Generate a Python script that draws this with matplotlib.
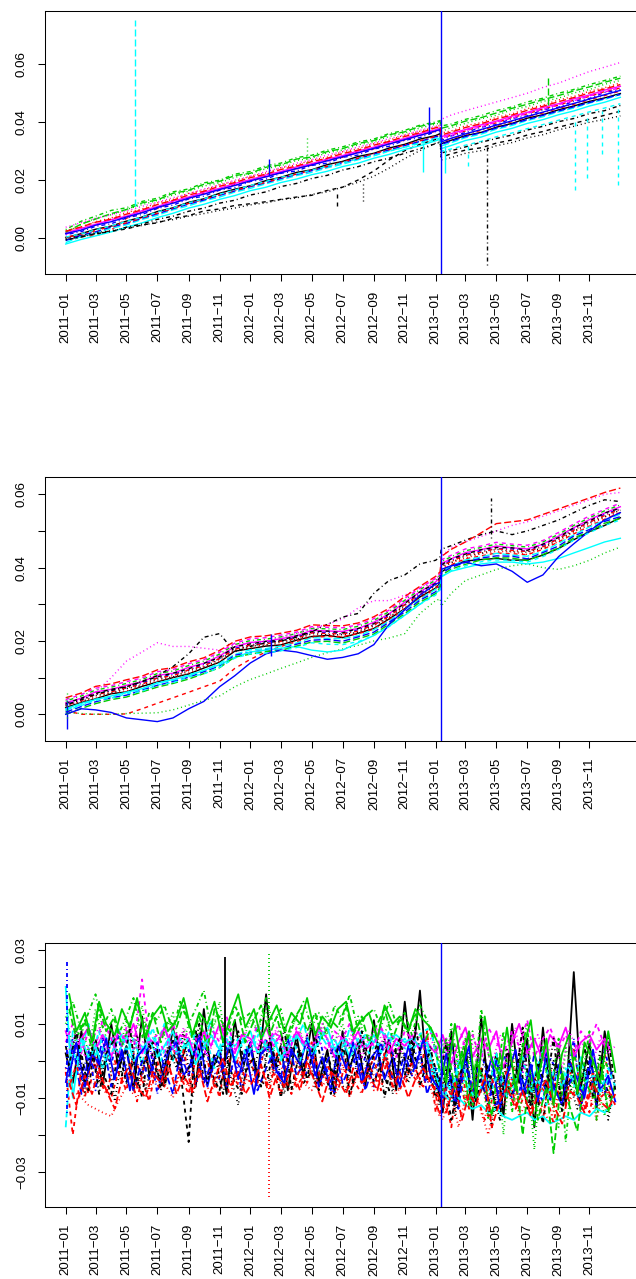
import matplotlib
matplotlib.use("Agg")
import matplotlib.pyplot as plt
import matplotlib.dates as mdates
import numpy as np
import pandas as pd

# ----------------- Data (all values in units of 1e-3) -----------------
UNIT = 1e-3

# monthly points with the break on 2013-01-11 kept sharp
monthly_dates = (list(pd.date_range("2011-01-01", "2013-01-01", freq="MS"))
                 + [pd.Timestamp("2013-01-10"), pd.Timestamp("2013-01-12")]
                 + list(pd.date_range("2013-02-01", "2014-01-01", freq="MS")))
semimonthly_dates = pd.date_range("2011-01-01", "2013-12-31", freq="SMS")
semimonthly_late = semimonthly_dates + pd.Timedelta(days=7)
break_date = pd.Timestamp("2013-01-11")
obs_start, obs_end = pd.Timestamp("2011-01-03"), pd.Timestamp("2013-12-31")

# panel 1: cumulated series
top_s00 = [0.2, 1.6, 3.1, 4.2, 5.9, 7.3, 9.2, 10.5, 12.4, 13.6, 15.5, 16.9, 18.1, 19.9, 21.0, 22.7, 23.6, 25.4, 26.5, 28.2,
           29.3, 31.1, 32.4, 34.2, 35.4, 36.1, 32.6, 33.8, 35.4, 36.5, 38.3, 39.6, 41.4, 42.6, 44.3, 45.6, 47.2, 48.4, 49.9]
top_s01 = [0.5, 0.6, 0.8, 2.8, 6.9, 9.0, 10.3, 12.4, 13.6, 15.5, 16.6, 18.5, 19.6, 21.4, 22.5, 24.1, 25.2, 27.0, 27.9, 29.7,
           30.8, 32.6, 33.9, 35.6, 36.9, 37.6, 34.3, 35.6, 37.0, 38.7, 39.8, 41.7, 42.9, 44.6, 45.9, 47.6, 48.9, 50.6, 51.8]
top_s02 = [2.0, 4.8, 6.9, 8.1, 9.9, 11.6, 13.0, 14.9, 16.2, 18.0, 19.1, 21.0, 22.2, 24.0, 25.0, 26.8, 27.6, 29.5, 30.4, 32.2,
           33.3, 35.1, 36.3, 38.0, 39.3, 39.8, 36.8, 38.2, 39.6, 41.2, 42.4, 44.3, 45.4, 47.2, 48.3, 50.1, 51.3, 53.1, 54.4]
top_s03 = [1.2, 2.3, 4.1, 5.0, 7.0, 8.2, 10.3, 11.4, 13.6, 14.5, 16.6, 17.5, 19.6, 20.4, 22.4, 23.2, 25.1, 25.9, 27.9, 28.7,
           30.8, 31.7, 33.8, 34.7, 36.8, 37.2, 33.7, 35.3, 36.4, 38.3, 39.2, 41.3, 42.2, 44.3, 45.2, 47.3, 48.2, 50.3, 51.2]
top_s04 = [-1.5, 0.6, 1.8, 3.4, 4.6, 6.5, 7.9, 9.8, 11.2, 12.9, 14.2, 15.9, 17.2, 18.8, 20.1, 21.6, 22.7, 24.3, 25.5, 27.1,
           28.4, 30.1, 31.4, 33.1, 34.4, 35.0, 31.8, 33.0, 34.7, 35.9, 37.6, 38.9, 40.6, 41.9, 43.6, 44.9, 46.6, 47.9, 49.6]
top_s05 = [1.8, 3.4, 4.8, 6.4, 7.6, 9.5, 10.9, 12.8, 14.2, 15.9, 17.2, 18.9, 20.2, 21.8, 23.0, 24.6, 25.7, 27.3, 28.5, 30.1,
           31.4, 33.1, 34.4, 36.1, 37.4, 38.1, 35.0, 36.1, 37.5, 39.1, 40.4, 42.1, 43.4, 45.1, 46.4, 48.1, 49.4, 51.1, 52.4]
top_s06 = [-0.5, 0.6, 1.5, 2.4, 3.2, 4.6, 5.3, 6.9, 7.8, 9.4, 10.1, 11.3, 11.9, 12.6, 13.4, 14.2, 14.8, 16.5, 17.6, 20.1,
           23.2, 27.0, 30.2, 32.4, 34.0, 34.5, 28.0, 29.1, 30.4, 31.2, 32.8, 33.9, 35.6, 36.8, 38.3, 39.6, 41.0, 42.4, 43.8]
top_s07 = [2.6, 3.9, 5.7, 7.0, 8.9, 10.1, 12.2, 13.4, 15.5, 16.6, 18.5, 19.6, 21.4, 22.5, 24.3, 25.3, 26.9, 28.0, 29.8, 30.9,
           32.6, 33.8, 35.6, 36.9, 38.4, 38.9, 36.3, 37.0, 38.8, 39.9, 41.7, 42.9, 44.7, 45.9, 47.7, 48.9, 50.7, 51.9, 53.6]
top_s08 = [3.0, 5.9, 7.6, 9.6, 10.5, 12.7, 13.8, 16.0, 17.0, 19.1, 20.0, 22.1, 23.0, 25.0, 25.9, 27.8, 28.6, 30.4, 31.5, 33.2,
           34.2, 36.1, 37.2, 39.0, 40.1, 40.6, 38.7, 39.4, 41.0, 42.3, 44.0, 45.3, 47.0, 48.3, 50.0, 51.3, 53.0, 54.4, 55.9]
top_s09 = [-0.8, 1.1, 2.2, 3.9, 5.1, 6.9, 8.4, 10.2, 11.8, 13.2, 14.8, 16.3, 17.8, 19.2, 20.6, 22.0, 23.3, 24.7, 26.1, 27.5,
           29.0, 30.5, 32.0, 33.4, 35.0, 35.4, 32.4, 33.5, 35.1, 36.4, 38.0, 39.4, 40.9, 42.4, 43.9, 45.3, 46.8, 48.2, 49.6]
top_s10 = [-2.0, -0.4, 0.8, 2.2, 3.8, 5.3, 7.1, 8.6, 10.4, 11.7, 13.4, 14.7, 16.4, 17.6, 19.2, 20.4, 21.9, 23.1, 24.7, 25.9,
           27.6, 28.9, 30.6, 31.9, 33.6, 34.1, 30.9, 32.0, 33.7, 34.9, 36.6, 37.9, 39.6, 40.9, 42.6, 43.9, 45.6, 46.9, 48.6]
top_s11 = [1.4, 2.9, 4.5, 5.8, 7.2, 8.9, 10.6, 12.1, 13.9, 15.2, 16.9, 18.2, 19.9, 21.1, 22.7, 23.9, 25.4, 26.6, 28.2, 29.4,
           31.1, 32.4, 34.1, 35.4, 37.1, 37.4, 34.6, 35.4, 37.2, 38.4, 40.1, 41.4, 43.1, 44.4, 46.1, 47.4, 49.1, 50.4, 52.0]
top_s12 = [0.0, 0.9, 1.9, 2.6, 3.5, 4.4, 5.6, 6.4, 7.6, 8.5, 9.6, 10.4, 11.5, 12.2, 13.3, 13.9, 15.1, 16.0, 17.6, 19.3,
           21.4, 24.2, 27.5, 30.2, 32.8, 33.2, 27.0, 27.8, 29.3, 30.2, 31.9, 33.0, 34.6, 35.7, 37.4, 38.6, 40.0, 41.0, 42.2]
top_s13 = [0.3, 1.4, 2.6, 4.1, 5.3, 7.0, 8.6, 10.3, 12.0, 13.4, 15.0, 16.4, 18.0, 19.3, 20.8, 22.1, 23.5, 24.8, 26.3, 27.6,
           29.2, 30.6, 32.2, 33.6, 35.2, 35.8, 33.2, 34.3, 35.9, 37.2, 38.8, 40.2, 41.8, 43.2, 44.8, 46.2, 47.8, 49.2, 50.8]
top_s14 = [2.1, 4.9, 6.6, 8.5, 9.9, 12.2, 13.2, 15.5, 16.5, 18.6, 19.6, 21.6, 22.4, 24.5, 25.3, 27.3, 28.0, 29.9, 30.9, 32.7,
           33.7, 35.7, 36.7, 38.6, 39.7, 40.3, 37.9, 38.8, 40.4, 41.6, 43.2, 44.8, 46.2, 47.8, 49.2, 50.8, 52.2, 53.8, 55.2]
top_s15 = [1.6, 2.8, 4.5, 5.7, 7.3, 8.8, 10.6, 12.1, 13.8, 15.2, 16.8, 18.2, 19.8, 21.2, 22.6, 24.0, 25.3, 26.7, 28.1, 29.5,
           31.0, 32.5, 34.0, 35.5, 37.0, 37.5, 33.2, 34.5, 36.0, 37.5, 39.0, 40.5, 42.0, 43.5, 45.0, 46.5, 48.0, 49.5, 51.0]
top_s16 = [0.4, 1.5, 2.9, 4.3, 5.8, 7.3, 9.0, 10.5, 12.2, 13.6, 15.2, 16.6, 18.2, 19.6, 21.0, 22.2, 23.5, 24.8, 26.0, 27.4,
           28.6, 30.0, 31.4, 32.7, 34.0, 34.6, 30.0, 30.8, 32.1, 33.4, 35.0, 36.3, 37.8, 39.2, 40.7, 42.1, 43.6, 44.9, 46.4]
top_s17 = [3.8, 5.4, 6.8, 8.1, 9.4, 11.0, 12.4, 14.0, 15.3, 17.0, 18.3, 20.0, 21.4, 23.0, 24.3, 25.9, 27.1, 28.7, 29.9, 31.5,
           32.8, 34.4, 35.6, 37.2, 38.6, 39.0, 41.0, 42.5, 44.0, 45.5, 47.0, 48.5, 50.0, 52.0, 53.5, 55.5, 57.5, 59.0, 60.6]
top_s18 = [-0.6, 0.4, 1.6, 2.3, 3.8, 4.9, 6.5, 7.6, 9.3, 10.4, 12.1, 13.1, 14.9, 16.0, 17.8, 18.9, 20.6, 21.7, 23.5, 24.7,
           26.4, 27.6, 29.3, 30.9, 32.6, 33.1, 29.4, 30.2, 31.5, 33.1, 34.4, 35.6, 37.3, 38.6, 40.2, 41.3, 43.0, 44.0, 45.8]
top_s19 = [2.4, 3.9, 5.5, 6.6, 8.3, 9.8, 11.6, 13.1, 14.9, 16.2, 17.9, 19.2, 20.9, 22.1, 23.7, 24.9, 26.4, 27.6, 29.2, 30.4,
           32.1, 33.4, 35.1, 36.4, 38.1, 38.4, 35.6, 36.6, 38.2, 39.5, 41.1, 42.5, 44.1, 45.5, 47.1, 48.5, 50.1, 51.5, 53.0]
top_series = [top_s00, top_s01, top_s02, top_s03, top_s04, top_s05, top_s06, top_s07, top_s08, top_s09,
              top_s10, top_s11, top_s12, top_s13, top_s14, top_s15, top_s16, top_s17, top_s18, top_s19]

# single-day spikes: series index, day, from, to
top_ev_idx = [4, 18, 16, 16, 16, 16, 15, 15, 2, 14, 10, 10, 16, 6, 12]
top_ev_day = ["2011-05-18", "2013-04-12", "2013-10-04", "2013-10-27", "2013-11-26", "2013-12-28", "2012-12-19",
              "2012-02-07", "2012-04-21", "2013-08-11", "2012-12-08", "2013-01-20", "2013-03-05", "2012-06-20",
              "2012-08-10"]
top_ev_lo = [11.0, -9.2, 16.7, 20.7, 29.0, 18.4, 36.0, 21.5, 26.0, 46.0, 22.8, 22.5, 25.0, 11.0, 13.0]
top_ev_hi = [75.3, 32.0, 41.0, 42.0, 44.0, 46.0, 45.4, 27.3, 35.3, 56.3, 33.0, 32.0, 32.0, 16.5, 19.5]

# panel 2: cumulated series (second set)
mid_s00 = [1.8, 3.2, 4.2, 5.6, 6.1, 7.6, 8.8, 10.0, 11.0, 12.6, 14.2, 17.2, 17.9, 18.6, 18.9, 20.2, 21.2, 21.5, 20.9, 22.1,
           23.4, 26.0, 28.8, 32.0, 34.4, 35.8, 38.8, 40.5, 41.8, 42.2, 42.5, 42.0, 42.1, 43.4, 45.2, 47.6, 49.8, 51.5, 53.6]
mid_s01 = [1.0, 0.0, 0.0, 0.0, 0.1, 1.5, 3.0, 4.5, 6.0, 7.5, 9.0, 12.5, 15.0, 17.0, 18.5, 19.8, 21.0, 21.2, 21.2, 22.0,
           23.2, 25.8, 28.6, 31.7, 34.2, 35.5, 39.2, 40.8, 42.4, 43.2, 44.0, 43.8, 43.5, 45.0, 47.0, 49.2, 51.3, 53.2, 55.0]
mid_s02 = [0.5, 0.2, 0.0, 0.0, 0.2, 0.3, 0.4, 1.2, 2.5, 3.8, 5.0, 7.5, 9.5, 11.0, 12.5, 14.0, 15.5, 16.8, 17.8, 18.8,
           20.0, 20.8, 22.0, 27.5, 31.0, 31.5, 29.5, 33.0, 36.5, 38.0, 39.5, 40.5, 41.0, 40.0, 39.5, 40.5, 42.0, 44.0, 45.6]
mid_s03 = [2.7, 4.0, 5.4, 6.5, 7.2, 8.6, 9.9, 10.9, 12.1, 13.6, 15.2, 18.0, 18.9, 19.7, 20.0, 21.1, 22.3, 22.4, 21.9, 23.1,
           24.4, 27.1, 29.9, 33.1, 35.4, 37.0, 40.6, 42.0, 43.6, 44.6, 45.2, 45.1, 44.4, 46.1, 47.9, 50.6, 52.4, 54.6, 56.0]
mid_s04 = [1.2, 2.6, 4.1, 4.8, 5.9, 6.9, 8.6, 9.2, 10.8, 11.9, 13.9, 16.3, 17.6, 17.9, 18.6, 19.4, 20.9, 20.7, 20.6, 21.4,
           23.1, 25.4, 28.6, 31.4, 34.1, 35.4, 39.0, 40.4, 42.1, 42.9, 43.9, 43.4, 43.1, 44.4, 46.6, 48.9, 51.1, 52.9, 54.6]
mid_s05 = [3.1, 4.4, 6.1, 6.8, 7.9, 8.9, 10.6, 11.2, 12.8, 13.9, 15.9, 18.4, 19.6, 19.9, 20.6, 21.4, 22.9, 22.7, 22.6, 23.4,
           25.1, 27.4, 30.6, 33.4, 36.1, 37.4, 41.1, 42.4, 44.1, 44.9, 45.9, 45.4, 45.1, 46.4, 48.6, 50.9, 53.1, 54.9, 56.6]
mid_s06 = [2.9, 4.4, 5.7, 6.8, 7.5, 8.9, 10.2, 11.2, 12.4, 13.9, 15.5, 18.4, 19.2, 19.9, 20.2, 21.4, 22.5, 22.7, 22.2, 23.4,
           24.7, 27.4, 30.2, 33.4, 35.7, 37.4, 40.7, 42.4, 43.7, 44.9, 45.5, 45.4, 44.7, 46.4, 48.2, 50.9, 52.7, 54.9, 56.2]
mid_s07 = [1.6, 3.3, 4.6, 5.7, 6.4, 7.8, 9.1, 10.1, 11.3, 12.8, 14.4, 17.3, 18.1, 18.8, 19.1, 20.3, 21.4, 21.6, 21.1, 22.3,
           23.6, 26.3, 29.1, 32.3, 34.6, 36.3, 39.6, 41.3, 42.6, 43.8, 44.4, 44.3, 43.6, 45.3, 47.1, 49.8, 51.6, 53.8, 55.1]
mid_s08 = [3.6, 5.0, 6.6, 7.4, 8.4, 9.5, 11.1, 11.8, 13.3, 14.5, 16.4, 19.0, 20.1, 20.5, 21.1, 22.0, 23.4, 23.3, 23.1, 24.0,
           25.6, 28.0, 31.1, 34.0, 36.6, 38.0, 41.6, 43.0, 44.6, 45.5, 46.4, 46.0, 45.6, 47.0, 49.1, 51.5, 53.6, 55.5, 57.1]
mid_s09 = [0.6, 2.1, 3.4, 4.5, 5.2, 6.6, 7.9, 8.9, 10.1, 11.6, 13.2, 16.1, 16.9, 17.6, 17.9, 19.1, 20.2, 20.4, 19.9, 21.1,
           22.4, 25.1, 27.9, 31.1, 33.4, 35.1, 38.4, 40.1, 41.4, 42.6, 43.2, 43.1, 42.4, 44.1, 45.9, 48.6, 50.4, 52.6, 53.9]
mid_s10 = [1.5, 3.0, 4.0, 5.0, 6.0, 7.0, 8.5, 9.5, 10.5, 12.0, 13.5, 15.5, 17.0, 17.5, 18.0, 18.5, 17.5, 17.0, 17.5, 19.5,
           21.5, 24.0, 27.0, 30.0, 33.0, 34.0, 37.5, 39.0, 40.0, 41.0, 41.5, 41.5, 41.0, 41.5, 42.5, 44.0, 45.5, 47.0, 48.0]
mid_s11 = [4.0, 5.4, 7.1, 7.8, 8.9, 9.9, 11.6, 12.2, 13.8, 14.9, 16.9, 19.4, 20.6, 20.9, 21.6, 22.4, 23.9, 23.7, 23.6, 24.4,
           26.1, 28.4, 31.6, 34.4, 37.1, 38.4, 42.1, 43.4, 45.1, 45.9, 46.9, 46.4, 46.1, 47.4, 49.6, 51.9, 54.1, 55.9, 57.6]
mid_s12 = [2.2, 3.4, 5.1, 5.8, 7.0, 7.9, 9.6, 10.2, 11.9, 12.9, 15.0, 17.4, 18.7, 18.9, 19.7, 20.4, 22.0, 21.7, 21.7, 22.4,
           24.2, 26.4, 29.7, 32.4, 35.2, 36.4, 40.2, 41.4, 43.2, 43.9, 45.0, 44.4, 44.2, 45.4, 47.7, 49.9, 52.2, 53.9, 55.7]
mid_s13 = [2.4, 3.7, 5.4, 6.1, 7.2, 8.2, 9.9, 10.5, 12.1, 13.2, 15.2, 17.7, 18.9, 19.2, 19.9, 20.7, 22.2, 22.0, 21.9, 22.7,
           24.4, 26.7, 29.9, 32.7, 35.4, 36.7, 40.4, 41.7, 43.4, 44.2, 45.2, 44.7, 44.4, 45.7, 47.9, 50.2, 52.4, 54.2, 55.9]
mid_s14 = [0.0, 1.6, 2.9, 4.0, 4.7, 6.1, 7.4, 8.4, 9.6, 11.1, 12.7, 15.6, 16.4, 17.1, 17.4, 18.6, 19.7, 19.9, 19.4, 20.6,
           21.9, 24.6, 27.4, 30.6, 32.9, 34.6, 37.9, 39.6, 40.9, 42.1, 42.7, 42.6, 41.9, 43.6, 45.4, 48.1, 49.9, 52.1, 53.4]
mid_s15 = [0.0, 1.5, 1.2, 0.5, -1.0, -1.5, -2.0, -1.0, 1.5, 3.5, 7.5, 10.5, 14.0, 16.5, 17.5, 17.0, 16.0, 15.0, 15.5, 16.5,
           19.0, 24.5, 28.5, 32.5, 35.5, 36.0, 39.5, 40.5, 41.5, 40.5, 41.0, 39.0, 36.0, 38.0, 43.0, 46.5, 50.0, 53.0, 55.0]
mid_s16 = [1.0, 2.4, 3.8, 4.4, 5.6, 6.3, 8.0, 8.6, 10.2, 11.0, 12.8, 15.3, 16.5, 16.7, 17.3, 18.2, 19.5, 19.1, 19.0, 19.8,
           21.5, 23.9, 27.0, 30.0, 32.5, 34.0, 37.5, 39.2, 40.5, 41.6, 42.1, 42.0, 41.5, 43.0, 45.0, 47.5, 49.5, 51.5, 53.0]
mid_s17 = [2.5, 4.0, 6.0, 10.0, 14.5, 17.0, 19.5, 18.5, 18.5, 18.0, 17.5, 19.0, 19.5, 20.0, 21.0, 22.0, 23.5, 24.5, 26.0, 29.0,
           31.0, 31.0, 32.5, 34.5, 37.0, 38.0, 43.0, 45.5, 47.0, 48.5, 50.0, 51.5, 52.5, 54.0, 55.5, 57.0, 58.5, 60.0, 60.5]
mid_s18 = [2.5, 4.0, 5.5, 6.5, 7.5, 9.0, 10.5, 13.0, 16.5, 21.0, 22.0, 17.0, 18.5, 19.5, 20.0, 21.0, 22.5, 24.5, 26.5, 27.5,
           33.0, 36.5, 38.0, 41.0, 42.0, 43.0, 45.0, 46.0, 47.5, 49.0, 50.0, 49.0, 50.0, 51.5, 53.0, 55.0, 57.0, 58.5, 58.0]
mid_s19 = [4.5, 5.8, 7.6, 8.3, 9.4, 10.4, 12.1, 12.7, 14.3, 15.4, 17.4, 19.9, 21.1, 21.4, 22.1, 22.9, 24.4, 24.2, 24.1, 24.9,
           26.6, 28.9, 32.1, 34.9, 37.6, 38.9, 43.0, 45.0, 47.0, 49.5, 52.0, 52.5, 53.0, 54.5, 56.0, 57.5, 59.0, 60.5, 61.7]
mid_series = [mid_s00, mid_s01, mid_s02, mid_s03, mid_s04, mid_s05, mid_s06, mid_s07, mid_s08, mid_s09,
              mid_s10, mid_s11, mid_s12, mid_s13, mid_s14, mid_s15, mid_s16, mid_s17, mid_s18, mid_s19]

mid_ev_idx = [15, 18, 15, 2]
mid_ev_day = ["2011-01-04", "2013-04-20", "2012-02-10", "2011-01-04"]
mid_ev_lo = [-4.0, 48.0, 16.0, -1.0]
mid_ev_hi = [4.0, 59.0, 22.0, 6.0]

# panel 3: residuals, twice a month (series 12+ are sampled a week later)
res_s00 = [2, -6, 8, -3, 5, -7, 10, -2, 4, -8, 12, -4, 3, -6, 9, -1, 6, -7, 14, -3, 2, -9, 11, 0,
           5, -5, 18, -2, 4, -8, 7, -4, 10, -6, 3, -9, 8, -2, 5, -7, 11, -3, 6, -8, 16, -1, 19, -5,
           -4, -14, 8, -10, 4, -16, 12, -8, 2, -15, 10, -6, 6, -18, 9, -9, 3, -12, 24, -7, 5, -13, 8, -4]
res_s01 = [-3, -20, -2, -9, 1, -6, -10, -3, -8, 2, -5, -11, 0, -7, 4, -4, -9, 1, -6, -2, -10, 3, -5, -8,
           0, -6, 6, -3, -9, 2, -7, -4, 5, -8, -1, -6, 3, -10, -2, -5, 1, -8, 4, -3, -7, 0, -5, 8,
           -14, -6, -18, -3, -12, -8, -2, -15, -5, -10, 1, -13, -7, -4, -16, -2, -9, -12, 3, -8, -14, -5, 2, -10]
res_s02 = [12, 4, 10, 2, 14, 6, 9, 1, 11, 5, 15, 3, 8, 7, 13, 2, 10, 4, 12, 6, 16, 3, 9, 5,
           11, 8, 14, 2, 10, 6, 12, 4, 9, 7, 13, 5, 10, 3, 12, 6, 8, 4, 11, 2, 9, 5, 7, 3,
           -6, 6, -10, 4, -12, 8, -4, -16, 2, -20, 5, -14, -2, -24, 3, -10, -18, 4, -8, -12, 6, -6, -15, -2]
res_s03 = [-2, 6, -5, 3, -8, 4, -1, 7, -6, 2, -4, 5, -9, 1, 6, -3, 3, -7, 5, -2, -5, 4, 1, -8,
           3, -4, 6, -2, -6, 2, 4, -5, 0, 7, -3, -9, 2, 5, -4, 1, -7, 3, 6, -2, -5, 4, 0, -6,
           -3, -12, 5, -8, -1, -10, 3, -6, -13, 2, -5, -9, 4, -7, -11, 1, -4, -8, 6, -10, -2, -12, 3, -5]
res_s04 = [-18, 8, 3, 10, 1, 7, 5, 9, 2, 6, -1, 8, 4, 10, 0, 6, 3, 7, 5, 11, 1, 8, 4, 6,
           2, 9, 3, 7, 0, 5, 6, 10, 2, 8, 4, 6, 1, 9, 5, 3, 7, 2, 8, 4, 6, 3, 5, 4,
           -8, -2, -10, 0, -6, -12, -3, -8, 2, -9, -5, -1, -11, -4, 3, -7, -10, -2, -6, 1, -9, -4, -7, -3]
res_s05 = [8, 2, 6, 9, 3, 7, 1, 8, 5, 10, 2, 6, 4, 9, 3, 7, 6, 1, 8, 4, 10, 5, 2, 7,
           6, 3, 9, 4, 7, 2, 8, 5, 3, 9, 6, 1, 7, 4, 8, 3, 5, 9, 2, 6, 4, 7, 3, 5,
           2, 7, -1, 5, 9, 1, 6, 3, 8, -2, 5, 10, 2, 6, 0, 7, 4, 9, 1, 5, 7, 3, 6, 2]
res_s06 = [4, -5, 2, -8, 6, -3, -9, 3, -6, 0, -10, 5, -4, -7, 2, -2, -22, 8, -5, -3, -8, 1, -6, -9,
           4, -4, -7, 3, -10, -1, 5, -6, -3, -8, 2, -5, 7, -9, -2, 4, -6, -1, -8, 3, -4, 6, -7, 0,
           -10, -2, -16, -6, 3, -12, -8, -1, -14, -5, -9, 2, -13, -6, -17, -3, -10, -7, -4, -12, 1, -9, -6, -11]
res_s07 = [-2, -8, -10, -12, -13, -14, -15, -11, -7, -9, -4, -8, -2, -6, -10, -3, -7, 0, -5, -9, -1, -6, -4, -8,
           -3, -7, -5, -2, -9, -4, 0, -6, -8, -3, -5, -10, -1, -7, -4, -2, -8, -6, -3, -9, -5, -1, -7, -4,
           -12, -16, -8, -18, -10, -6, -14, -20, -9, -12, -5, -15, -11, -7, -13, -17, -8, -10, -4, -14, -9, -16, -6, -12]
res_s08 = [10, 16, 8, 13, 18, 9, 14, 7, 12, 17, 6, 13, 11, 15, 8, 16, 10, 14, 19, 9, 12, 7, 15, 11,
           13, 8, 17, 10, 14, 6, 12, 16, 9, 13, 7, 15, 11, 18, 8, 12, 14, 9, 16, 10, 13, 7, 15, 11,
           4, -8, 10, -2, 6, -12, 14, 2, -6, 8, -14, 0, 10, -18, 4, -10, 6, -22, 2, -6, 8, -16, 0, -4]
res_s09 = [-6, 4, -9, 1, -3, 6, -7, -1, 3, -8, 0, -5, 5, -2, -9, 2, -4, 4, -6, -1, 3, -7, 1, -3,
           5, -8, -2, 2, -5, 6, -4, -1, 3, -7, 0, 4, -6, -2, 2, -8, -1, 5, -3, -6, 2, -4, 3, -9,
           -2, -10, -4, -13, 1, -8, -5, -12, 0, -7, -10, -3, -9, 2, -6, -11, -1, -8, -4, -13, 0, -6, -9, -3]
res_s10 = [20, -10, 6, 1, 4, -2, 5, 2, 7, 0, 3, 6, 1, 4, 8, 2, 5, -1, 4, 7, 3, 6, 0, 5,
           8, 2, 4, 6, 1, 3, 7, 4, 2, 5, 9, 3, 6, 1, 4, 7, 5, 8, 6, 7, 5, 6, 4, 5,
           -4, -9, -11, -10, -12, -13, -12, -14, -13, -15, -16, -15, -14, -16, -15, -17, -16, -15, -16, -14, -15, -13, -14, -12]
res_s11 = [5, 10, 2, 8, 4, 11, 6, 1, 9, 3, 22, 5, 7, 2, 10, 4, 8, 6, 1, 9, 5, 12, 3, 7,
           4, 10, 2, 8, 6, 1, 9, 4, 11, 5, 3, 8, 6, 10, 2, 7, 4, 9, 5, 1, 8, 6, 3, 7,
           8, 1, 6, 10, 3, 7, 0, 9, 5, 2, 8, 4, 11, 1, 6, 9, 3, 7, 2, 8, 5, 10, 4, 6]
res_s12 = [-4, 5, -9, 2, -6, 6, -11, 1, -3, 7, -8, 0, -5, 4, -2, 8, -10, -1, 3, -7, 5, -4, -12, 2,
           -3, 6, -6, 1, -9, 4, -2, 7, -7, 0, 3, -5, -8, 2, 5, -4, -1, 6, -9, 3, -6, 1, -3, 4,
           -12, -2, -15, -4, 2, -10, -7, -18, -1, -9, -5, 4, -14, -3, -8, 0, -11, -6, -13, -2, -9, 3, -16, -5]
res_s13 = [-7, -1, -10, 2, -5, -9, 0, -6, -3, -11, 1, -4, -8, -2, -6, 3, -9, -4, 0, -7, -2, -10, 1, -5,
           -6, -1, -8, 2, -4, -9, -2, -6, 1, -7, -3, -8, 0, -5, -9, -1, -6, 2, -4, -8, -2, -5, -7, 0,
           -15, -7, -11, -3, -13, -9, -16, -5, -10, -2, -12, -8, -14, -6, -9, -17, -4, -11, -7, -13, -3, -10, -8, -12]
res_s14 = [14, 6, 11, 3, 15, 8, 12, 4, 10, 16, 7, 13, 5, 11, 9, 15, 6, 12, 3, 14, 10, 8, 13, 5,
           11, 15, 7, 12, 4, 10, 14, 8, 13, 6, 11, 9, 15, 7, 12, 5, 10, 14, 6, 11, 8, 13, 4, 9,
           -2, 6, -8, 3, -12, 0, -6, -15, 2, -10, -4, -20, -1, -16, -7, -25, -3, -12, -19, -5, -10, 1, -14, -6]
res_s15 = [-4, 5, -7, 2, -1, 6, -5, 3, -8, 1, 4, -3, -6, 2, 5, -4, 0, 7, -7, 1, -2, 5, -5, 3,
           -9, 2, 4, -3, -6, 3, -1, 6, -4, 1, -8, 4, -2, 5, -6, 0, 3, -5, 1, -7, 4, -2, 6, -4,
           -8, 2, -12, -3, 4, -10, -6, 1, -13, -4, 3, -9, -1, -11, 2, -7, -12, 0, -5, -10, 3, -8, -4, -11]
res_s16 = [6, 0, 5, 2, 8, -1, 4, 7, 1, 5, 3, 9, 0, 6, 2, 4, 8, 1, 5, -2, 7, 3, 6, 2,
           4, 9, 1, 5, 3, 7, 0, 6, 2, 8, 4, 1, 6, 3, 8, 2, 5, 0, 7, 4, 3, 6, 8, 9,
           -3, -9, -5, 0, -7, -11, -4, -8, -2, -10, -6, 1, -9, -5, -12, -3, -7, -1, -10, -6, -4, -9, -2, -7]
res_s17 = [3, 8, 1, 6, 9, 2, 7, 4, 10, 3, 6, 1, 8, 5, 2, 9, 4, 7, 1, 6, 10, 3, 5, 8,
           2, 7, 4, 9, 1, 6, 8, 3, 5, 10, 2, 7, 4, 8, 1, 6, 9, 3, 7, 2, 5, 8, 4, 6,
           1, 6, -2, 4, 8, 0, 5, -1, 7, 3, 9, -3, 4, 7, 1, 6, -2, 8, 3, 5, 0, 6, 2, 4]
res_s18 = [-1, 8, -6, 4, -9, 2, 6, -4, 9, -7, 1, 5, -8, 3, 7, -5, 0, 10, -6, 2, -9, 4, 8, -3,
           1, -7, 6, -2, 9, -8, 3, -5, 7, -1, -9, 4, 2, -6, 8, -3, 5, -10, 1, 6, -4, 9, -2, 3,
           -6, 5, -13, -2, 8, -11, 1, -8, -16, 3, -5, 9, -12, -1, -7, 6, -14, 0, -9, 4, -10, -3, 7, -8]
res_s19 = [-6, -12, -4, -9, -2, -8, -13, -5, -1, -7, -10, -3, -6, 0, -9, -4, -8, -2, -11, -5, 1, -7, -3, -9,
           -5, -1, -10, -4, -7, -2, -8, 0, -6, -11, -3, -5, -9, -2, -6, -4, -8, 1, -7, -3, -10, -5, -2, -6,
           -10, -14, -6, -16, -9, -12, -4, -18, -11, -7, -13, -8, -15, -9, -5, -12, -17, -8, -10, -14, -6, -11, -13, -9]
res_s20 = [18, 8, 13, 5, 16, 10, 7, 14, 9, 17, 6, 12, 15, 8, 11, 17, 7, 13, 10, 16, 5, 12, 18, 9,
           14, 6, 11, 15, 8, 13, 10, 17, 7, 12, 9, 14, 16, 8, 11, 13, 6, 15, 10, 12, 8, 14, 11, 9,
           4, -6, 10, -2, 8, -10, 12, 0, -4, 9, -8, 3, 11, -5, 6, -12, 2, 7, -9, 5, 0, -6, 8, -3]
res_series = [res_s00, res_s01, res_s02, res_s03, res_s04, res_s05, res_s06,
              res_s07, res_s08, res_s09, res_s10, res_s11, res_s12, res_s13,
              res_s14, res_s15, res_s16, res_s17, res_s18, res_s19, res_s20]
res_dates = [semimonthly_dates] * 12 + [semimonthly_late] * 9

res_ev_idx = [7, 2, 0, 3]
res_ev_day = ["2012-02-07", "2012-02-07", "2011-11-12", "2011-01-04"]
res_ev_lo = [-37.0, 8.0, 0.0, -14.0]
res_ev_hi = [-5.0, 29.0, 28.0, 27.0]

# axis ticks
tick_dates = pd.date_range("2011-01-01", "2013-11-01", freq="2MS")
tick_labels = [f"{d.year}\u2212{d.month:02d}" for d in tick_dates]

# ----------------- Style (R matplot defaults) -----------------
plt.rcParams["font.family"] = ["Liberation Sans", "DejaVu Sans"]
plt.rcParams["font.size"] = 9.6
plt.rcParams["lines.scale_dashes"] = False

PX = 0.72  # one pixel in points at dpi=100
R_COL = ["black", "#FF0000", "#00CD00", "#0000FF", "#00FFFF", "#FF00FF"]
R_LTY = ["-",
         (0, (4 * PX, 4 * PX)),
         (0, (1 * PX, 3 * PX)),
         (0, (1 * PX, 3 * PX, 4 * PX, 3 * PX)),
         (0, (7 * PX, 3 * PX))]


def draw_panel(ax, dates, series, ev_idx, ev_day, ev_lo, ev_hi,
               ylim, yticks, ylabels, lw=1.0):
    for i, s in enumerate(series):
        d = dates[i] if isinstance(dates, list) and len(dates) == len(series) else dates
        x = mdates.date2num(pd.DatetimeIndex(d))
        ax.plot(x, np.asarray(s, dtype=float) * UNIT,
                color=R_COL[i % 6], linestyle=R_LTY[i % 5], linewidth=lw)
    for i, day, lo, hi in zip(ev_idx, ev_day, ev_lo, ev_hi):
        ax.vlines(mdates.date2num(pd.Timestamp(day)), lo * UNIT, hi * UNIT,
                  colors=R_COL[i % 6], linestyles=[R_LTY[i % 5]], linewidth=lw)
    ax.axvline(mdates.date2num(break_date), color="#0000FF", linewidth=1.0, zorder=5)

    # R pads the data range by 4% on each side
    x0, x1 = mdates.date2num(obs_start), mdates.date2num(obs_end)
    pad = 0.04 * (x1 - x0)
    ax.set_xlim(x0 - pad, x1 + pad)
    ax.set_ylim(*ylim)

    ax.set_xticks(mdates.date2num(tick_dates))
    ax.set_xticklabels(tick_labels, rotation=90)
    ax.set_yticks(yticks)
    ax.set_yticklabels(ylabels, rotation=90, va="center")
    ax.tick_params(length=5, width=0.75, pad=7, colors="black")
    for sp in ax.spines.values():
        sp.set_linewidth(0.75)


fig = plt.figure(figsize=(6.36, 12.79), dpi=100)
left, width = 0.0701, 0.9393

ax1 = fig.add_axes([left, 0.7854, width, 0.2063])
draw_panel(ax1, monthly_dates, top_series, top_ev_idx, top_ev_day, top_ev_lo, top_ev_hi,
           (-0.0125, 0.0785), [0.0, 0.02, 0.04, 0.06], ["0.00", "0.02", "0.04", "0.06"])

ax2 = fig.add_axes([left, 0.4209, width, 0.2064])
draw_panel(ax2, monthly_dates, mid_series, mid_ev_idx, mid_ev_day, mid_ev_lo, mid_ev_hi,
           (-0.0072, 0.0648), [0.0, 0.01, 0.02, 0.03, 0.04, 0.05, 0.06],
           ["0.00", "", "0.02", "", "0.04", "", "0.06"])

ax3 = fig.add_axes([left, 0.0565, width, 0.2060])
draw_panel(ax3, res_dates, res_series, res_ev_idx, res_ev_day, res_ev_lo, res_ev_hi,
           (-0.0395, 0.0318), [-0.03, -0.02, -0.01, 0.0, 0.01, 0.02, 0.03],
           ["\u22120.03", "", "\u22120.01", "", "0.01", "", "0.03"], lw=1.3)

fig.savefig("out.png", dpi=100)
